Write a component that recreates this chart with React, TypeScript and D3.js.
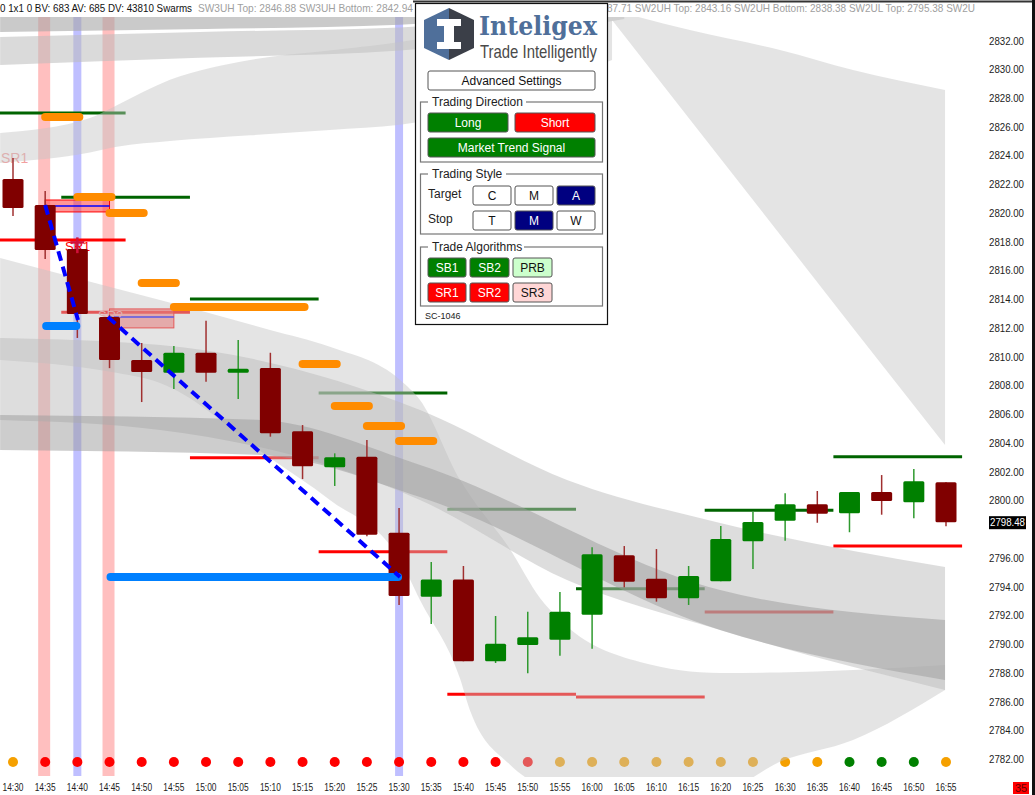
import React from 'react';
import * as d3 from 'd3';

// ---- chart data ----
const times = ['14:30', '14:35', '14:40', '14:45', '14:50', '14:55', '15:00', '15:05', '15:10', '15:15',
  '15:20', '15:25', '15:30', '15:35', '15:40', '15:45', '15:50', '15:55', '16:00', '16:05',
  '16:10', '16:15', '16:20', '16:25', '16:30', '16:35', '16:40', '16:45', '16:50', '16:55'];
const opens = [2822.36, 2820.55, 2817.49, 2812.76, 2809.77, 2808.88, 2810.27, 2808.88, 2809.21, 2804.8,
  2802.3, 2803.04, 2797.75, 2793.29, 2794.5, 2788.8, 2789.93, 2790.3, 2792.04, 2796.18,
  2794.55, 2793.18, 2794.37, 2797.15, 2798.58, 2799.72, 2799.1, 2800.58, 2799.86, 2801.26];
const highs = [2823.82, 2821.53, 2818.2, 2812.9, 2810.95, 2810.74, 2812.5, 2811.16, 2810.27, 2805.24,
  2803.27, 2804.2, 2799.47, 2795.71, 2795.43, 2791.95, 2792.25, 2793.62, 2796.73, 2796.82,
  2796.61, 2795.43, 2798.21, 2799.21, 2800.49, 2800.65, 2800.58, 2801.76, 2802.18, 2801.26];
const lows = [2819.79, 2816.79, 2811.3, 2809.2, 2806.84, 2807.75, 2808.26, 2807.05, 2804.43, 2801.48,
  2801.0, 2797.5, 2792.72, 2791.39, 2788.8, 2788.68, 2787.96, 2789.19, 2789.68, 2793.95,
  2792.95, 2792.72, 2794.37, 2795.22, 2797.19, 2798.44, 2797.78, 2799.0, 2798.75, 2798.2];
const closes = [2820.34, 2817.42, 2812.97, 2809.77, 2808.93, 2810.27, 2808.88, 2809.16, 2804.67, 2802.37,
  2803.0, 2797.61, 2793.34, 2794.5, 2788.8, 2790.02, 2790.47, 2792.25, 2796.25, 2794.34,
  2793.18, 2794.73, 2797.31, 2798.49, 2799.72, 2799.07, 2800.58, 2799.95, 2801.32, 2798.48];

// signal dots under each bar: o = orange, r = red, g = green
const dotSignal = ['o', 'r', 'r', 'r', 'r', 'r', 'r', 'r', 'r', 'r', 'r', 'r', 'r', 'r', 'r', 'r', 'r',
  'o', 'o', 'o', 'o', 'o', 'o', 'o', 'o', 'o', 'g', 'g', 'g', 'o'];

const priceTicks = ['2782.00', '2784.00', '2786.00', '2788.00', '2790.00', '2792.00', '2794.00', '2796.00',
  '2800.00', '2802.00', '2804.00', '2806.00', '2808.00', '2810.00', '2812.00', '2814.00', '2816.00',
  '2818.00', '2820.00', '2822.00', '2824.00', '2826.00', '2828.00', '2830.00', '2832.00'];
const lastPrice = 2798.48;

// 4-bar target / stop levels
const levelStart = [-0.5, 1.5, 5.5, 9.5, 13.5, 17.5, 21.5, 25.5];
const upperLevels = [2826.95, 2821.09, 2814.01, 2807.47, 2799.38, 2793.85, 2799.31, 2803.04];
const lowerLevels = [2818.12, 2813.09, 2802.97, 2796.43, 2786.5, 2786.31, 2792.23, 2796.82];

// orange entry markers
const orangeFrom = [1, 2, 3, 4, 5, 9, 10, 11, 12];
const orangeTo = [2, 3, 4, 5, 9, 10, 11, 12, 13];
const orangeLevel = [2826.68, 2821.11, 2820.0, 2815.12, 2813.45, 2809.49, 2806.56, 2805.17, 2804.13];

// blue markers
const blueFrom = [1, 3];
const blueTo = [2, 12];
const blueLevel = [2812.13, 2794.67];

// dashed swing line
const swingA = [[1, 2820.55], [2.02, 2812.55]];
const swingB = [[2.95, 2812.76], [12.03, 2794.67]];

// sell zones
const zoneFrom = [1, 3];
const zoneTo = [3, 5];
const zoneTop = [2820.9, 2813.32];
const zoneBottom = [2820.07, 2812.0];
const zoneMid = [2820.49, 2812.76];

// highlighted bars
const pinkBars = [1, 3];
const blueBars = [2, 12];

// swarm ribbons
const bandT1Idx = [-0.4, 6, 12.03, 19];
const bandT1Top = [2834.5, 2834.4, 2834.5, 2836];
const bandT1Bot = [2832.6, 2832.8, 2833.1, 2834.5];
const bandT2Idx = [-0.4, 5.8, 12.03, 19];
const bandT2Top = [2832.25, 2832.6, 2832.9, 2835.5];
const bandT2Bot = [2830.3, 2830.8, 2831.3, 2833.5];
const bandUIdx = [-0.4, 2.39, 3.23, 4.88, 7.37, 9.85, 12.03, 18.62];
const bandUTop = [2825.57, 2826.61, 2827.5, 2829.26, 2830.65, 2831.3, 2831.9, 2835];
const bandUBot = [2823.48, 2824.2, 2824.6, 2825.0, 2825.4, 2825.78, 2826.13, 2830.65];
const bandVIdx = [18.62, 21.04, 23.84, 26.11, 28.97];
const bandVTop = [2834.12, 2832.73, 2831.34, 2829.95, 2828.56];
const bandVBot = [2833.43, 2826.5, 2818.5, 2812.0, 2803.85];
const bandFIdx = [-0.4, 3.02, 4.57, 7.99, 9.85, 12.03, 12.65, 13.9, 14.2, 15.45, 16.38, 17.0, 19.49, 21.98, 23.84, 26.11, 28.97];
const bandFTop = [2816.87, 2814.85, 2813.95, 2811.86, 2810.68, 2808.38, 2806.99, 2801.42, 2800.37, 2796.6, 2793.2, 2791.67, 2788.75, 2787.99, 2788.02, 2788.19, 2788.54];
const bandFBot = [2809.77, 2808.94, 2808.17, 2802.95, 2800.03, 2795.85, 2793.07, 2787.57, 2785.41, 2781.6, 2780.1, 2779.4, 2779.0, 2779.6, 2781.8, 2783.32, 2786.8];
const bandM1Idx = [-0.4, 4.57, 12.65, 17.22, 21.98, 28.97];
const bandM1Top = [2811.3, 2810.81, 2806.29, 2801.42, 2798.43, 2795.36];
const bandM1Bot = [2805.59, 2804.9, 2800.03, 2794.46, 2790.98, 2786.8];
const bandM2Idx = [-0.4, 7.68, 12.65, 21.98, 28.97];
const bandM2Top = [2805.94, 2805.59, 2802.46, 2793.76, 2791.67];
const bandM2Bot = [2803.51, 2803.16, 2800.24, 2790.98, 2787.5];

const bands = [
  { idx: bandT1Idx, top: bandT1Top, bot: bandT1Bot, fill: '#a6a6a6', op: 0.6 },
  { idx: bandT2Idx, top: bandT2Top, bot: bandT2Bot, fill: '#bcbcbc', op: 0.55 },
  { idx: bandUIdx, top: bandUTop, bot: bandUBot, fill: '#c4c4c4', op: 0.45 },
  { idx: bandVIdx, top: bandVTop, bot: bandVBot, fill: '#c4c4c4', op: 0.45 },
  { idx: bandFIdx, top: bandFTop, bot: bandFBot, fill: '#c4c4c4', op: 0.45 },
  { idx: bandM1Idx, top: bandM1Top, bot: bandM1Bot, fill: '#bcbcbc', op: 0.5 },
  { idx: bandM2Idx, top: bandM2Top, bot: bandM2Bot, fill: '#9c9c9c', op: 0.5 },
];

const W = 1035;
const H = 795;
const x = d3.scaleLinear().domain([0, 29]).range([13, 946]);
const y = d3.scaleLinear().domain([2782, 2832]).range([759, 40.5]);

const UP = '#008000';
const DOWN = '#800000';
const dotColor: Record<string, string> = { o: '#f5a000', r: '#ff0000', g: '#008000' };
const sans = '"Liberation Sans", Arial, sans-serif';

function Button({ x0, y0, w, label, bg, fg }: any) {
  return (
    <g>
      <rect x={x0} y={y0} width={w} height={19} rx={2} fill={bg} stroke="#555" strokeWidth={1} />
      <text x={x0 + w / 2} y={y0 + 13.5} textAnchor="middle" fontSize={12} fill={fg} fontFamily={sans}>{label}</text>
    </g>
  );
}

function Group({ y0, h, title, tw }: any) {
  return (
    <g>
      <rect x={420.5} y={y0} width={182} height={h} fill="none" stroke="#777" strokeWidth={1.2} />
      <rect x={428} y={y0 - 7} width={tw} height={12} fill="#fff" />
      <text x={432} y={y0 + 4} fontSize={12} fill="#222" fontFamily={sans}>{title}</text>
    </g>
  );
}

function Panel() {
  return (
    <g>
      <rect x={415.5} y={3.5} width={192} height={321} fill="#fff" stroke="#111" strokeWidth={1.2} />
      {/* logo */}
      <polygon points="449,8 474,20 474,48 449,60" fill="#3b3f48" />
      <polygon points="449,8 424,20 424,48 449,60" fill="#4f6f9a" />
      <path d="M437,19 H461 V26 H454 V42 H461 V49 H437 V42 H444 V26 H437 Z" fill="#fff" />
      <text x={479} y={35} fontSize={26} fontWeight="bold" fill="#4f6f9a" fontFamily='"DejaVu Serif", serif'
        textLength={118} lengthAdjust="spacingAndGlyphs">Inteligex</text>
      <text x={480} y={58} fontSize={19} fill="#4a4a4a" fontFamily={sans}
        textLength={117} lengthAdjust="spacingAndGlyphs">Trade Intelligently</text>

      <Button x0={428} y0={71} w={167} label="Advanced Settings" bg="#fff" fg="#111" />

      <Group y0={102} h={60} title="Trading Direction" tw={98} />
      <Button x0={428} y0={113} w={80} label="Long" bg="#008000" fg="#fff" />
      <Button x0={515} y0={113} w={80} label="Short" bg="#ff0000" fg="#fff" />
      <Button x0={428} y0={138} w={167} label="Market Trend Signal" bg="#008000" fg="#fff" />

      <Group y0={174} h={60} title="Trading Style" tw={78} />
      <text x={428} y={198} fontSize={12} fill="#222" fontFamily={sans}>Target</text>
      <Button x0={473} y0={186} w={38} label="C" bg="#fff" fg="#111" />
      <Button x0={515} y0={186} w={38} label="M" bg="#fff" fg="#111" />
      <Button x0={557} y0={186} w={38} label="A" bg="#000080" fg="#fff" />
      <text x={428} y={223} fontSize={12} fill="#222" fontFamily={sans}>Stop</text>
      <Button x0={473} y0={211} w={38} label="T" bg="#fff" fg="#111" />
      <Button x0={515} y0={211} w={38} label="M" bg="#000080" fg="#fff" />
      <Button x0={557} y0={211} w={38} label="W" bg="#fff" fg="#111" />

      <Group y0={247} h={59} title="Trade Algorithms" tw={96} />
      <Button x0={428} y0={258} w={38} label="SB1" bg="#008000" fg="#fff" />
      <Button x0={470} y0={258} w={39} label="SB2" bg="#008000" fg="#fff" />
      <Button x0={513} y0={258} w={39} label="PRB" bg="#ccffcc" fg="#111" />
      <Button x0={428} y0={283} w={38} label="SR1" bg="#ff0000" fg="#fff" />
      <Button x0={470} y0={283} w={39} label="SR2" bg="#ff0000" fg="#fff" />
      <Button x0={513} y0={283} w={39} label="SR3" bg="#ffd6d6" fg="#111" />

      <text x={425} y={319} fontSize={9} fill="#222" fontFamily={sans}>SC-1046</text>
    </g>
  );
}

export default function App() {
  const bw = 21;
  const bandPath = (b: any) =>
    d3.area<number>()
      .x((_, k) => x(b.idx[k]))
      .y0((_, k) => y(b.bot[k]))
      .y1((_, k) => y(b.top[k]))
      .curve(d3.curveMonotoneX)(b.idx) || '';
  const line = d3.line<number[]>().x(d => x(d[0])).y(d => y(d[1]));

  return (
    <div style={{ position: 'absolute', left: 0, top: 0 }}>
      <svg width={W} height={H} style={{ display: 'block', background: '#fff' }}>
        <defs>
          <clipPath id="plot"><rect x={0} y={17} width={977} height={760} /></clipPath>
        </defs>

        <g clipPath="url(#plot)">
          {/* highlighted bars */}
          {pinkBars.map(i => (
            <rect key={'p' + i} x={x(i) - 7} y={17} width={12} height={759} fill="#ff0000" opacity={0.25} />
          ))}
          {blueBars.map(i => (
            <rect key={'b' + i} x={x(i) - 4} y={17} width={8} height={759} fill="#0000ff" opacity={0.25} />
          ))}

          {/* levels */}
          {levelStart.map((s, k) => (
            <g key={'l' + k}>
              <line x1={x(s)} x2={x(s + 4)} y1={y(upperLevels[k])} y2={y(upperLevels[k])} stroke="#006400" strokeWidth={3} />
              <line x1={x(s)} x2={x(s + 4)} y1={y(lowerLevels[k])} y2={y(lowerLevels[k])} stroke="#ff0000" strokeWidth={3} />
            </g>
          ))}

          {/* sell zones */}
          {zoneFrom.map((f, k) => (
            <g key={'z' + k}>
              <rect x={x(f)} y={y(zoneTop[k])} width={x(zoneTo[k]) - x(f)} height={y(zoneBottom[k]) - y(zoneTop[k])}
                fill="#ff4040" fillOpacity={0.55} stroke="#ff0000" strokeWidth={1} />
              <line x1={x(f)} x2={x(zoneTo[k])} y1={y(zoneMid[k])} y2={y(zoneMid[k])} stroke="#0000ff" strokeWidth={1.5} />
            </g>
          ))}

          <text x={1} y={163} fontSize={14} fill="#f2a0a0" fontFamily={sans}>SR1</text>
          <text x={98} y={320} fontSize={13} fill="#f2a0a0" fontFamily={sans}>SR2</text>
          <text x={65} y={251} fontSize={13} fill="#ff0000" fontFamily={sans}>SR1</text>

          {/* signal dots */}
          {dotSignal.map((s, i) => (
            <circle key={'d' + i} cx={x(i)} cy={762} r={5} fill={dotColor[s]} />
          ))}

          {/* swarm ribbons */}
          {bands.map((b, k) => (
            <path key={'band' + k} d={bandPath(b)} fill={b.fill} fillOpacity={b.op} />
          ))}

          {/* candles */}
          {times.map((t, i) => {
            const up = closes[i] >= opens[i];
            const c = up ? UP : DOWN;
            const top = y(Math.max(opens[i], closes[i]));
            const bot = y(Math.min(opens[i], closes[i]));
            return (
              <g key={'c' + t}>
                <line x1={x(i)} x2={x(i)} y1={y(highs[i])} y2={y(lows[i])} stroke={up ? '#2f9a2f' : '#a03030'} strokeWidth={1.5} />
                <rect x={x(i) - bw / 2} y={top} width={bw} height={Math.max(2.5, bot - top)} rx={1.5} fill={c} />
              </g>
            );
          })}

          {/* red cross marker */}
          <line x1={x(2)} x2={x(2)} y1={y(2818.3)} y2={y(2817.2)} stroke="#d0103a" strokeWidth={2.5} />
          <line x1={x(2) - 7} x2={x(2) + 7} y1={y(2817.95)} y2={y(2817.95)} stroke="#d0103a" strokeWidth={2.5} />

          {/* orange / blue markers */}
          {orangeFrom.map((f, k) => (
            <line key={'o' + k} x1={x(f) - 0} x2={x(orangeTo[k]) + 2} y1={y(orangeLevel[k])} y2={y(orangeLevel[k])}
              stroke="#ff8c00" strokeWidth={8} strokeLinecap="round" />
          ))}
          {blueFrom.map((f, k) => (
            <line key={'bl' + k} x1={x(f) + 1} x2={x(blueTo[k]) - 1} y1={y(blueLevel[k])} y2={y(blueLevel[k])}
              stroke="#0080ff" strokeWidth={8} strokeLinecap="round" />
          ))}

          <path d={line(swingA) || ''} fill="none" stroke="#0000ff" strokeWidth={4} strokeDasharray="10,6" />
          <path d={line(swingB) || ''} fill="none" stroke="#0000ff" strokeWidth={4} strokeDasharray="10,6" />
        </g>

        {/* header strip */}
        <rect x={0} y={0} width={977} height={17} fill="#fff" />
        <text x={0} y={12} fontSize={11} fill="#111" fontFamily={sans} textLength={192} lengthAdjust="spacingAndGlyphs">0 1x1 0 BV: 683 AV: 685 DV: 43810 Swarms</text>
        <text x={198} y={12} fontSize={11} fill="#a0a0a0" fontFamily={sans} textLength={215} lengthAdjust="spacingAndGlyphs">SW3UH Top: 2846.88  SW3UH Bottom: 2842.94</text>
        <text x={607} y={12} fontSize={11} fill="#a0a0a0" fontFamily={sans} textLength={368} lengthAdjust="spacingAndGlyphs">87.71  SW2UH Top: 2843.16  SW2UH Bottom: 2838.38  SW2UL Top: 2795.38  SW2U</text>
        <line x1={413} x2={1035} y1={1.5} y2={1.5} stroke="#333" strokeWidth={2} />

        {/* price axis */}
        {priceTicks.map(p => (
          <text key={p} x={1024} y={y(+p) + 4} textAnchor="end" fontSize={11} fill="#222" fontFamily={sans}
            textLength={35} lengthAdjust="spacingAndGlyphs">{p}</text>
        ))}
        <rect x={989} y={y(lastPrice) - 6} width={37} height={13} fill="#000" />
        <text x={1007.5} y={y(lastPrice) + 4} textAnchor="middle" fontSize={11} fill="#fff" fontFamily={sans}
          textLength={35} lengthAdjust="spacingAndGlyphs">{lastPrice.toFixed(2)}</text>

        {/* time axis */}
        {times.map((t, i) => (
          <text key={'t' + t} x={x(i)} y={791} textAnchor="middle" fontSize={11} fill="#222" fontFamily={sans}
            textLength={21} lengthAdjust="spacingAndGlyphs">{t}</text>
        ))}
        <rect x={1013} y={782} width={16} height={12} fill="#ff0000" />
        <text x={1021} y={792} textAnchor="middle" fontSize={11} fill="#600" fontFamily={sans}>35</text>

        <rect x={1032} y={0} width={3} height={H} fill="#111" />

        <Panel />
      </svg>
    </div>
  );
}
